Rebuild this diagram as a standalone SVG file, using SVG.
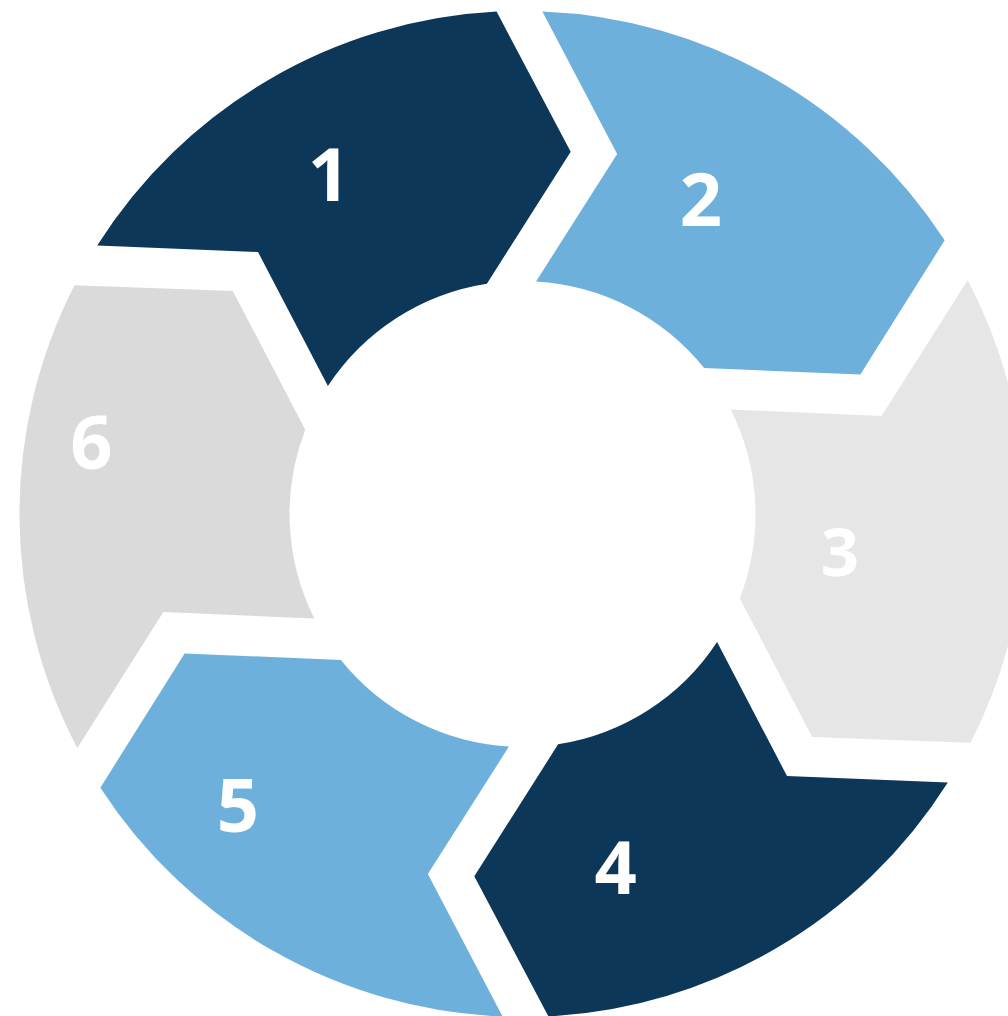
<svg xmlns="http://www.w3.org/2000/svg" width="1008" height="1016" viewBox="0 0 1008 1016">
<style>
.num{font-family:"Open Sans","Liberation Sans",sans-serif;font-weight:700;font-size:74px;fill:#ffffff;text-anchor:middle}
.navy{fill:#0d3758}
.blue{fill:#6eb0dc}
.g3{fill:#e6e6e6}
.g6{fill:#dadada}
</style>
<defs>
<path id="seg" d="M 97.2 245.5 A 503 503 0 0 1 496.6 11.6 L 570.7 151.7 L 486.9 283.7 A 233 233 0 0 0 327.9 386.0 L 258 252 Z"/>
</defs>
<rect width="1008" height="1016" fill="#ffffff"/>
<g id="step1"><use href="#seg" class="navy"/><text class="num" x="329" y="201">1</text></g>
<g id="step2"><use href="#seg" class="blue" transform="rotate(60 522.5 514)"/><text class="num" x="701" y="226">2</text></g>
<g id="step3"><use href="#seg" class="g3" transform="rotate(120 522.5 514)"/><text class="num" x="840" y="576" style="font-size:67px">3</text></g>
<g id="step4"><use href="#seg" class="navy" transform="rotate(180 522.5 514)"/><text class="num" x="615.7" y="894">4</text></g>
<g id="step5"><use href="#seg" class="blue" transform="rotate(240 522.5 514)"/><text class="num" x="238" y="832">5</text></g>
<g id="step6"><use href="#seg" class="g6" transform="rotate(300 522.5 514)"/><text class="num" x="91.5" y="469">6</text></g>
</svg>
